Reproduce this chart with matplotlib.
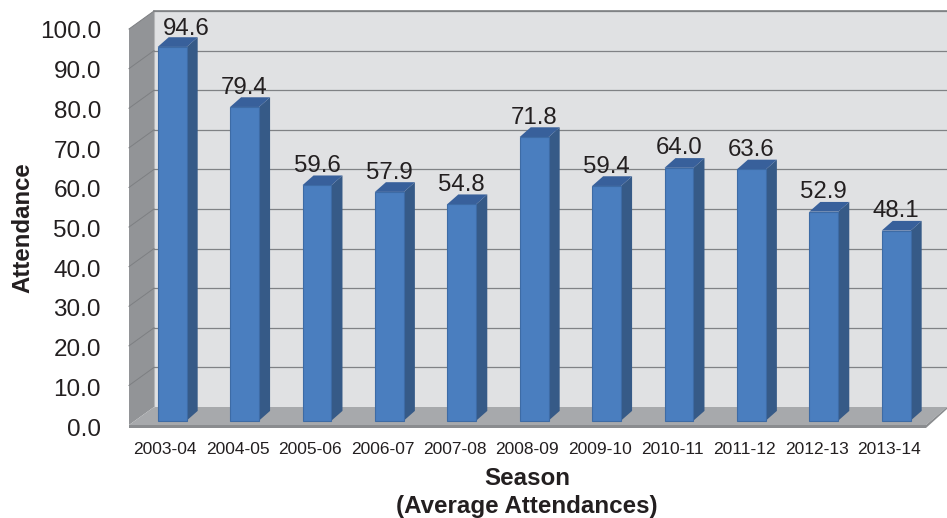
import matplotlib
matplotlib.use("Agg")
import matplotlib.pyplot as plt

plt.rcParams['font.family'] = ['Liberation Sans', 'DejaVu Sans']

seasons = ['2003-04', '2004-05', '2005-06', '2006-07', '2007-08', '2008-09',
           '2009-10', '2010-11', '2011-12', '2012-13', '2013-14']
attendance = [94.6, 79.4, 59.6, 57.9, 54.8, 71.8, 59.4, 64.0, 63.6, 52.9, 48.1]
y_ticks = [0, 10, 20, 30, 40, 50, 60, 70, 80, 90, 100]

W, H = 947, 518
TEXT = '#231f20'

fig = plt.figure(figsize=(W / 100, H / 100), dpi=100, facecolor='white')

# background box is drawn in plain pixel coords
bg = fig.add_axes([0, 0, 1, 1])
bg.set_xlim(0, W)
bg.set_ylim(H, 0)
bg.axis('off')

bg.fill([154, 947, 947, 154], [11, 11, 407, 407], color='#e0e1e3', lw=0)
bg.fill([129, 154, 154, 129], [29, 11, 407, 425], color='#929497', lw=0)
bg.fill([154, 947, 926, 129], [407, 407, 425, 425], color='#a7a9ac', lw=0)
bg.fill([129, 926, 947, 947, 926, 129], [425, 425, 407, 409, 428, 428], color='#8a8c8f', lw=0)
bg.plot([154, 947], [11, 11], color='#8a8c8f', lw=1.3)
bg.plot([154, 154], [11, 407], color='#b5b6b8', lw=0.8)

for v in y_ticks[1:]:
    yb = 407 - 3.96 * v
    bg.plot([154, 947], [yb, yb], color='#808285', lw=0.9)
    bg.plot([129, 154], [yb + 18, yb], color='#7d7f82', lw=0.7)

# front axes: x is the category index, y is the attendance value
PX_X = 72.4
PX_Y = 3.95
X0 = 172.2
Y0 = 420.6
ax = fig.add_axes([0, 0, 1, 1])
ax.patch.set_alpha(0)
ax.set_xlim(-X0 / PX_X, (W - X0) / PX_X)
ax.set_ylim((Y0 - H) / PX_Y, Y0 / PX_Y)
ax.axis('off')

bar_w = 0.4
dx = 11 / PX_X
dy = 9.7 / PX_Y

for i, val in enumerate(attendance):
    r = i + bar_w / 2
    l = i - bar_w / 2
    ax.fill([r, r + dx, r + dx, r], [0, dy, val + dy, val], color='#365a87', lw=0)
    ax.fill([l, l + dx, r + dx, r], [val, val + dy, val + dy, val], color='#38609b', lw=0)
ax.bar(range(len(seasons)), attendance, width=bar_w, color='#4a7ebf',
       edgecolor='#3d6ba5', linewidth=0.8)

for i, val in enumerate(attendance):
    # first label sits off to the right in the original
    shift = 0.2 if i == 0 else 0.0
    lift = 4.6 if i == 0 else 4.9
    ax.text(i + shift, val + lift, f'{val:.1f}', ha='center', va='center',
            fontsize=17.3, color=TEXT)

for i, s in enumerate(seasons):
    ax.text(i - 0.095, -7.4, s, ha='center', va='center', fontsize=12.5, color=TEXT)

for v in y_ticks:
    bg.text(101, 429.5 - 3.97 * v, f'{v:.1f}', ha='right', va='center',
            fontsize=17.5, color=TEXT)

bg.text(23, 228, 'Attendance', rotation=90, ha='center', va='center',
        fontsize=17.3, fontweight='bold', color=TEXT)
bg.text(527, 478.5, 'Season', ha='center', va='center',
        fontsize=17.4, fontweight='bold', color=TEXT)
bg.text(527, 506, '(Average Attendances)', ha='center', va='center',
        fontsize=17.4, fontweight='bold', color=TEXT)

fig.savefig('out.png', dpi=100)
